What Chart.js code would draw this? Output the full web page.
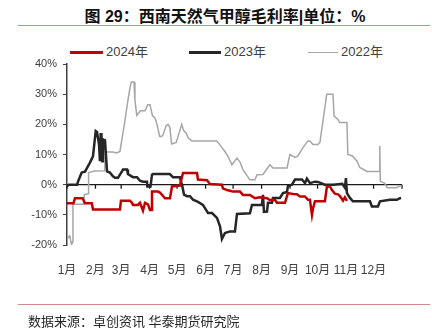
<!DOCTYPE html>
<html>
<head>
<meta charset="utf-8">
<script src="https://cdn.jsdelivr.net/npm/chart.js@4.4.1/dist/chart.umd.min.js"></script>
<style>
  html, body { margin: 0; padding: 0; background: #fff; }
  body { width: 432px; height: 333px; position: relative; overflow: hidden;
         font-family: "Liberation Sans", "Noto Sans CJK SC", sans-serif; }
  #title { position: absolute; left: 0; width: 450px; top: 3px; text-align: center;
           font-size: 16px; font-weight: bold; color: #111; }
  .rule { position: absolute; left: 18px; width: 412px; height: 1px; background: #d08a88; }
  .leg { position: absolute; top: 41px; font-size: 13px; color: #404040; white-space: nowrap; }
  .leg span { display: inline-block; vertical-align: middle; margin-right: 3px; }
  #source { position: absolute; left: 28px; top: 311px; font-size: 13px; color: #262626; }
  #wrap { position: absolute; left: 0; top: 0; width: 432px; height: 333px; }
</style>
</head>
<body>
<div id="title">图 29：西南天然气甲醇毛利率|单位：%</div>
<div class="rule" style="top:25px"></div>
<div class="leg" style="left:70px"><span style="width:33px;height:3px;background:#c00000"></span>2024年</div>
<div class="leg" style="left:189px"><span style="width:32px;height:3px;background:#262626"></span>2023年</div>
<div class="leg" style="left:308px"><span style="width:30px;height:1.5px;background:#a6a6a6"></span>2022年</div>
<div id="wrap"><canvas id="chart"></canvas></div>
<div class="rule" style="top:304px"></div>
<div id="source">数据来源：卓创资讯 华泰期货研究院</div>
<script>
// x = day of year, y = gross margin %
const monthStarts = [0, 31, 59, 90, 120, 151, 181, 212, 243, 273, 304, 334, 365];
const monthLabels = ['1月', '2月', '3月', '4月', '5月', '6月', '7月', '8月', '9月', '10月', '11月', '12月'];

const days2024 = [0, 7, 8.7, 17, 19.6, 27, 28.3, 57.7, 58.8, 68.6, 70.8, 71.9, 77.3, 79.5, 82.8, 85, 88.2, 90.4, 92,
    92.6, 99.1, 101.3, 106.8, 112.2, 114.4, 123, 126.4, 141.6, 142.7, 152.5, 155.8, 168.8, 169.9, 174.3, 177.6, 180.8,
    188.5, 191.7, 199.3, 204.8, 210.2, 217.9, 221.1, 226.6, 228.8, 237.5, 240.7, 246.2, 250.5, 253.8, 259.3, 262.5,
    264.7, 266.9, 268, 270.2, 281, 283.2, 286.5, 288.7, 291.9, 295.2, 297.4, 300.7, 302.8, 305];
const vals2024 = [-6.2, -6.2, -4.5, -4.5, -6.2, -6.2, -8.2, -8.2, -5.3, -5.3, -6, -6.7, -6.7, -6, -8.6, -6, -6.5, -8.4, -8.4,
    -2.3, -2.3, -2.6, -4.5, -4.5, -0.6, -0.3, 3.9, 3.9, 1.7, 1.5, 0.2, 0, -1.2, -1.8, -2, -2.3,
    -2.3, -3.4, -3.4, -4.5, -4.2, -4.5, -5.1, -5.1, -6, -6, -2.8, -3.1, -3.2, -3.9, -3.9, -5,
    -5, -10, -8, -5.5, -5.5, -0.6, -0.6, -1.8, -3, -3.2, -3.8, -5.3, -4.2, -5.4];

const days2023 = [0, 2, 11, 12, 16, 19.6, 25, 28.3, 31.3, 32.7, 34.9, 35.9, 36.7, 37.5, 38.5, 39.2, 41.4, 43.6, 46.8,
    50.1, 52.3, 55.6, 59.9, 61, 65.4, 66.4, 71.9, 76.3, 79.5, 82.8, 87.1, 87.5, 91, 92.6, 93.7, 112, 114.4, 115.5,
    123, 124.2, 125.3, 127.5, 130.7, 134, 137.3, 142.7, 148.1, 153.6, 158, 163.4, 166.7, 168.8, 172.1, 177.6, 183,
    185.2, 199.3, 201.5, 212.4, 213.5, 214.6, 217.9, 219, 223.3, 224.4, 232, 235.3, 239.7, 240.7, 245.1, 248.4, 256,
    259.3, 261.4, 264.7, 270.2, 273.4, 281, 290, 300, 302.8, 303.9, 305, 308.3, 311.5, 330.1, 332.2, 338.8, 341,
    351.9, 359.5, 362.7, 364];
const vals2023 = [-0.6, 0, 0, 1, 4, 4.3, 7.3, 9.4, 17.8, 17.5, 13.3, 7.8, 16.7, 16.7, 7.8, 15, 14.7, 4.4, 4,
    2.8, 2.3, 2.3, 4.4, 5, 5, 3.5, 2.5, 2.5, 1.3, 1, 1, -0.6, -0.6, 3.3, 3.5, 3.5, 2.8, 2.5,
    2.5, 1, 0, -3.3, -3.8, -3.8, -5, -5.7, -6.7, -9.4, -9.4, -11, -13.8, -18, -16, -15.5, -15.5,
    -9.7, -9.5, -6.7, -6.7, -3.4, -9, -8.9, -6, -6, -4.4, -4.4, -2.8, -2.4, -0.5, 0, 1.7, 1.7,
    0.5, 2, 0.5, 1, 0.9, 0, 0, 0.3, -1, 2.2, -2.8, -4.4, -5.5, -5.5, -7.2, -7.2, -5.5,
    -5, -5, -4.5, -4.4];

const days2022 = [0, 3, 5, 6, 6.5, 18, 19, 23, 23.5, 30, 41, 42, 50, 54, 57.7, 63, 66.4, 68.6, 70, 73, 74, 76, 80, 85,
    88, 90.4, 93, 96, 98, 101, 103, 104.6, 108, 110, 112, 114, 119, 122, 125, 127, 130, 132, 136, 163, 166.7, 172, 175.4,
    179.7, 185.2, 188.5, 191.7, 199.3, 204.8, 207, 213.5, 221.1, 224.4, 239.7, 242.9, 248.4, 251.6, 257.1, 262.5, 264.7,
    268, 273.4, 275.6,
    283, 289.8, 291, 295, 297, 305, 306, 311, 316, 319, 327, 340.3, 340.8, 341.4, 346, 349, 359, 362, 365];
const vals2022 = [-18, -17, -20, -19, -6.5, -6.5, -3.3, -3, 4, 4.5, 4.6, 10.8, 10.8, 10.5, 11, 21, 28, 32, 34, 34, 28, 23, 24.5, 24.5,
    26.5, 26.5, 23, 22, 20, 16, 16, 16.5, 19.5, 20, 19, 13.5, 14, 17, 20, 18, 17, 15.5, 14.5, 14.5, 13.2, 11, 9.4,
    6.6, 8.8, 7.5, 5, 1.6, 1.6, 3.3, 3.4, 6.6, 5.5, 5.5, 10, 9, 9.5, 12.3, 14.5, 14.5,
    13.3, 13.3, 14,
    30, 30, 22.7, 21.7, 20.6, 20.6, 10, 9.5, 7.8, 5.7, 4.4, 4.4, 12.8, 1.1, 0.5, -1, -1, -0.5, -0.5];

function toPoints(days, vals) {
    return days.map(function(d, i) { return { x: d, y: vals[i] }; });
}

// zero line with month ticks, drawn under the series
const zeroAxis = {
    id: 'zeroAxis',
    beforeDatasetsDraw(chart) {
        const ctx = chart.ctx;
        const xs = chart.scales.x;
        const y0 = chart.scales.y.getPixelForValue(0);
        ctx.save();
        ctx.strokeStyle = '#1a1a1a';
        ctx.lineWidth = 1.3;
        ctx.beginPath();
        ctx.moveTo(xs.getPixelForValue(0), y0);
        ctx.lineTo(xs.getPixelForValue(365), y0);
        monthStarts.forEach(function(m) {
            const px = xs.getPixelForValue(m);
            ctx.moveTo(px, y0);
            ctx.lineTo(px, y0 + 4);
        });
        ctx.stroke();
        ctx.restore();
    }
};

const tickFont = { family: '"Liberation Sans", "Noto Sans CJK SC", sans-serif', size: 12 };

new Chart(document.getElementById('chart'), {
    type: 'line',
    data: {
        datasets: [{
            label: '2024年',
            data: toPoints(days2024, vals2024),
            borderColor: '#c00000',
            borderWidth: 2.5
        }, {
            label: '2023年',
            data: toPoints(days2023, vals2023),
            borderColor: '#262626',
            borderWidth: 2.5
        }, {
            label: '2022年',
            data: toPoints(days2022, vals2022),
            borderColor: '#a6a6a6',
            borderWidth: 1.5
        }]
    },
    options: {
        responsive: true,
        maintainAspectRatio: false,
        animation: false,
        elements: { point: { radius: 0 }, line: { tension: 0 } },
        layout: { padding: { top: 64, right: 30, bottom: 0, left: 0 } },
        scales: {
            x: {
                type: 'linear',
                min: 0,
                max: 365,
                afterBuildTicks: function(scale) {
                    scale.ticks = monthStarts.map(function(v) { return { value: v }; });
                },
                afterFit: function(scale) { scale.height = 88; },
                grid: { display: false },
                border: { display: false },
                ticks: {
                    autoSkip: false,
                    maxRotation: 0,
                    padding: 10,
                    color: '#404040',
                    font: tickFont,
                    callback: function(v, i) { return monthLabels[i] || ''; }
                }
            },
            y: {
                min: -20,
                max: 40,
                afterFit: function(scale) { scale.width = 67; },
                grid: { drawOnChartArea: false, drawTicks: true, tickLength: 4, color: '#404040' },
                border: { display: true, color: '#404040', width: 1.5 },
                ticks: {
                    stepSize: 10,
                    padding: 6,
                    color: '#404040',
                    font: { family: tickFont.family, size: 11 },
                    callback: function(v) { return v + '%'; }
                }
            }
        },
        plugins: {
            legend: { display: false },
            tooltip: { enabled: false }
        }
    },
    plugins: [zeroAxis]
});
</script>
</body>
</html>
